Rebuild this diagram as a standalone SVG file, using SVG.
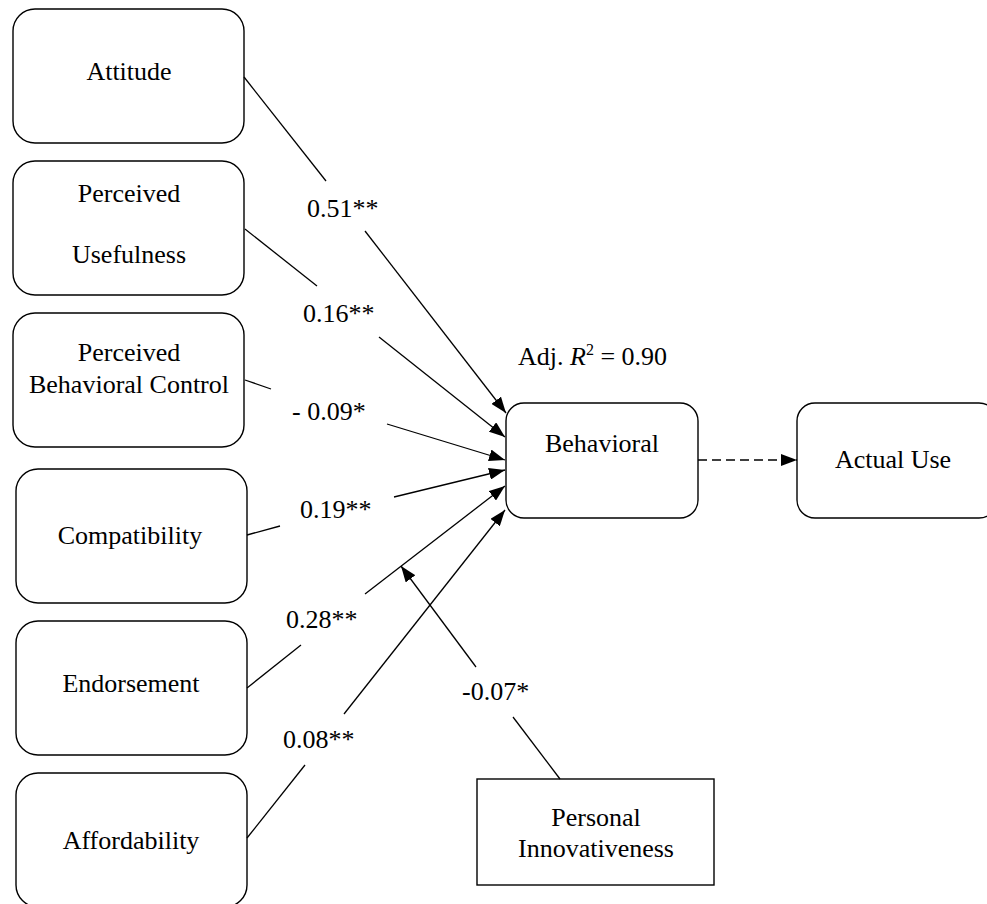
<svg xmlns="http://www.w3.org/2000/svg" width="987" height="904" viewBox="0 0 987 904">
  <style>
    .box { fill: #fff; stroke: #000; stroke-width: 1.4; }
    text { font-family: 'Liberation Serif', 'DejaVu Serif', serif; font-size: 26px; fill: #000; }
    .mid { text-anchor: middle; }
    .edge { stroke: #000; stroke-width: 1.3; fill: none; }
    .arrow { marker-end: url(#head); }
    .dash { stroke-dasharray: 9 5; }
  </style>
  <defs>
    <marker id="head" viewBox="0 0 16 12" refX="16" refY="6" markerWidth="16" markerHeight="12" markerUnits="userSpaceOnUse" orient="auto">
      <path d="M0,0 L16,6 L0,12 z" fill="#000"/>
    </marker>
  </defs>
  <rect width="987" height="904" fill="#fff"/>

  <g font-family="Liberation Serif, serif">
  <!-- predictor constructs -->
  <g id="attitude">
    <rect class="box" x="13" y="9" width="231" height="134" rx="22"/>
    <text class="mid" x="129" y="80">Attitude</text>
  </g>
  <g id="perceived-usefulness">
    <rect class="box" x="13" y="161" width="231" height="134" rx="22"/>
    <text class="mid" x="129" y="202">Perceived</text>
    <text class="mid" x="129" y="263">Usefulness</text>
  </g>
  <g id="perceived-behavioral-control">
    <rect class="box" x="13" y="313" width="231" height="134" rx="22"/>
    <text class="mid" x="129" y="361">Perceived</text>
    <text class="mid" x="129" y="393">Behavioral Control</text>
  </g>
  <g id="compatibility">
    <rect class="box" x="16" y="469" width="231" height="134" rx="22"/>
    <text class="mid" x="130" y="544">Compatibility</text>
  </g>
  <g id="endorsement">
    <rect class="box" x="16" y="621" width="231" height="134" rx="22"/>
    <text class="mid" x="131" y="692">Endorsement</text>
  </g>
  <g id="affordability">
    <rect class="box" x="16" y="773" width="231" height="134" rx="22"/>
    <text class="mid" x="131" y="849">Affordability</text>
  </g>

  <!-- outcome constructs -->
  <g id="behavioral">
    <rect class="box" x="506" y="403" width="192" height="115" rx="18"/>
    <text class="mid" x="602" y="452">Behavioral</text>
  </g>
  <g id="actual-use">
    <rect class="box" x="797" y="403" width="200" height="115" rx="18"/>
    <text class="mid" x="893" y="468">Actual Use</text>
  </g>
  <g id="personal-innovativeness">
    <rect class="box" x="477" y="779" width="237" height="106"/>
    <text class="mid" x="596" y="826">Personal</text>
    <text class="mid" x="596" y="857">Innovativeness</text>
  </g>

  <text id="r-squared" x="518" y="365">Adj. <tspan font-style="italic">R</tspan><tspan font-size="16" dy="-10">2</tspan><tspan dy="10"> = 0.90</tspan></text>

  <!-- paths with coefficients -->
  <g id="connectors">
    <line class="edge" x1="244" y1="77" x2="326" y2="181"/>
    <line class="edge arrow" x1="365" y1="231" x2="506" y2="413"/>
    <text x="307" y="217">0.51**</text>

    <line class="edge" x1="245" y1="229" x2="317" y2="286"/>
    <line class="edge arrow" x1="379" y1="337" x2="505" y2="437"/>
    <text x="303" y="322">0.16**</text>

    <line class="edge" x1="245" y1="380" x2="271" y2="389"/>
    <line class="edge arrow" x1="387" y1="424" x2="505" y2="460"/>
    <text x="292" y="420">- 0.09*</text>

    <line class="edge" x1="247" y1="535" x2="280" y2="526"/>
    <line class="edge arrow" x1="394" y1="497" x2="505" y2="470"/>
    <text x="300" y="518">0.19**</text>

    <line class="edge" x1="247" y1="688" x2="301" y2="645"/>
    <line class="edge arrow" x1="365" y1="594" x2="505" y2="486"/>
    <text x="286" y="628">0.28**</text>

    <line class="edge" x1="247" y1="838" x2="305" y2="765"/>
    <line class="edge arrow" x1="344" y1="714" x2="505" y2="510"/>
    <text x="283" y="748">0.08**</text>

    <line class="edge" x1="560" y1="779" x2="513" y2="717"/>
    <line class="edge arrow" x1="476" y1="667" x2="401" y2="566"/>
    <text x="462" y="700">-0.07*</text>

    <line class="edge arrow dash" x1="698" y1="460" x2="797" y2="460"/>
  </g>
  </g>
</svg>
